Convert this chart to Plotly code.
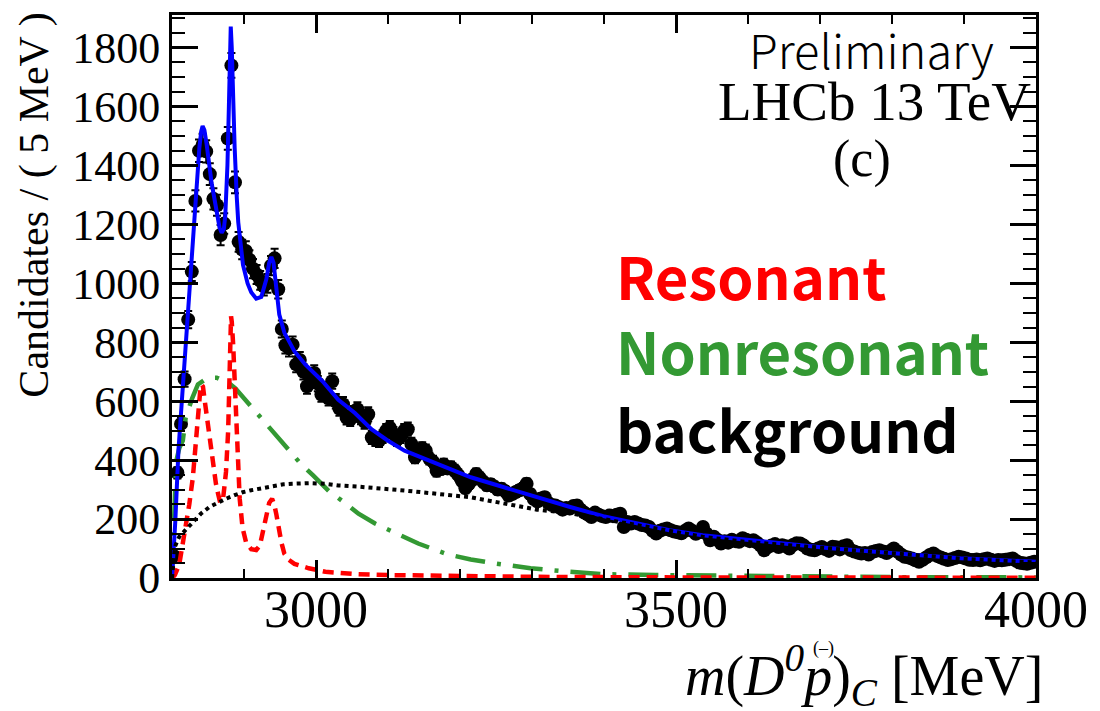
import numpy as np
import plotly.graph_objects as go

# ---------------- data ----------------
mass_bins = [2802.5 + 5 * i for i in range(240)]

counts = [
    # 2802.5 .. 2897.5
    75, 357, 523, 675, 877, 1040, 1280, 1450, 1470, 1448,
    1371, 1287, 1265, 1164, 1203, 1492, 1740, 1343, 1141, 1115,
    # 2902.5 .. 2997.5
    1110, 1080, 1050, 1030, 1010, 990, 1000, 1060, 1085, 980,
    845, 790, 780, 792, 725, 740, 700, 651, 680, 696,
    # 3002.5 .. 3097.5
    660, 623, 640, 610, 668, 600, 575, 590, 544, 539,
    560, 573, 545, 530, 556, 477, 470, 466, 480, 500,
    # 3102.5 .. 3197.5
    510, 490, 470, 480, 500, 505, 455, 410, 425, 440,
    432, 405, 395, 364, 370, 385, 372, 376, 365, 350,
    # 3202.5 .. 3297.5
    330, 305, 320, 335, 353, 340, 326, 315, 318, 310,
    300, 303, 295, 280, 285, 292, 298, 305, 320, 285,
    # 3302.5 .. 3397.5
    268, 260, 270, 274, 255, 248, 246, 240, 232, 238,
    236, 244, 246, 232, 222, 215, 207, 222, 215, 210,
    # 3402.5 .. 3497.5
    207, 212, 210, 215, 218, 173, 190, 185, 190, 185,
    180, 178, 173, 160, 151, 160, 165, 168, 162, 158,
    # 3502.5 .. 3597.5
    155, 152, 160, 168, 160, 150, 155, 173, 150, 128,
    140, 130, 117, 125, 120, 130, 125, 123, 135, 130,
    # 3602.5 .. 3697.5
    125, 128, 120, 110, 94, 105, 110, 115, 105, 111,
    108, 100, 112, 118, 117, 110, 100, 96, 94, 100,
    # 3702.5 .. 3797.5
    105, 98, 92, 106, 104, 97, 108, 111, 95, 90,
    86, 83, 85, 80, 88, 92, 94, 90, 85, 92,
    # 3802.5 .. 3897.5
    100, 90, 80, 72, 70, 66, 60, 55, 62, 70,
    78, 83, 75, 70, 65, 61, 64, 68, 72, 70,
    # 3902.5 .. 3997.5
    66, 62, 61, 63, 60, 64, 66, 62, 58, 61,
    60, 62, 64, 66, 58, 52, 50, 48, 52, 55,
]

total_m = [2800, 2802, 2804.6, 2809, 2814, 2820.6, 2827.5, 2834.4, 2838, 2840.5,
           2842.5, 2845, 2848, 2855, 2862, 2866, 2869, 2872, 2874, 2877,
           2879, 2880.5, 2881.6, 2883, 2884.5, 2887, 2890, 2892, 2898.6, 2905,
           2910, 2917, 2924, 2931, 2935, 2938, 2941, 2944.5, 2949, 2956,
           2963, 2970, 2985, 3009, 3031, 3054, 3077, 3100, 3123, 3169,
           3215, 3261, 3307, 3353, 3399, 3445, 3491, 3537, 3582, 3619,
           3711, 3803, 3895, 4000]
total_v = [0, 80, 193, 435, 616, 857, 1099, 1341, 1460, 1515,
           1534, 1520, 1474, 1341, 1232, 1190, 1172, 1185, 1230, 1401,
           1600, 1790, 1872, 1800, 1650, 1462, 1290, 1208, 1063, 1000,
           970, 948, 954, 1014, 1070, 1090, 1070, 990, 894, 833,
           800, 770, 725, 668, 605, 560, 505, 466, 432, 387,
           342, 308, 274, 241, 210, 185, 162, 145, 134, 126,
           102, 84, 67, 55]

res_m = [2800, 2804, 2810, 2818, 2824, 2829, 2833, 2836, 2839, 2841,
         2843, 2845, 2848, 2852, 2857, 2861, 2864, 2867, 2871, 2875,
         2878, 2880, 2881, 2882, 2883, 2885, 2887, 2889, 2891, 2894,
         2898, 2903, 2910, 2917, 2922, 2926, 2931, 2935, 2939, 2942,
         2945, 2948, 2952, 2956, 2962, 2970, 2990, 3013, 3059, 3100,
         3200, 3300, 3500, 4000]
res_v = [0, 10, 45, 151, 250, 342, 470, 556, 630, 657,
         650, 610, 556, 470, 398, 320, 286, 255, 270, 360,
         500, 700, 810, 888, 870, 790, 660, 520, 409, 270,
         170, 120, 98, 95, 110, 151, 215, 255, 269, 250,
         215, 170, 120, 83, 62, 48, 33, 21, 13, 10,
         6, 4, 2, 1]

nonres_m = [2800, 2801, 2803, 2804, 2806, 2810, 2815, 2819, 2828, 2836,
            2845, 2855, 2862, 2870, 2880, 2888, 2900, 2910, 2922, 2932,
            2942, 2952, 2962, 2978, 2996, 3018, 3043, 3059, 3082, 3112,
            3142, 3183, 3215, 3247, 3298, 3353, 3399, 3472, 3600, 3800,
            4000]
nonres_v = [0, 100, 200, 274, 398, 440, 466, 544, 610, 657,
            672, 680, 680, 672, 660, 644, 610, 580, 550, 520,
            491, 462, 434, 390, 348, 295, 250, 218, 185, 151,
            117, 80, 63, 50, 33, 21, 13, 10, 6, 3,
            2]

bkg_m = [2800, 2802, 2804, 2810, 2820, 2829, 2840, 2852, 2865, 2875,
         2887, 2898, 2910, 2921, 2932, 2944, 2955, 2967, 2980, 2990,
         3013, 3031, 3059, 3123, 3215, 3260, 3307, 3353, 3399, 3445,
         3491, 3537, 3600, 3700, 3800, 3900, 4000]
bkg_v = [0, 60, 106, 140, 165, 190, 218, 241, 258, 269,
         281, 291, 298, 303, 309, 314, 318, 320, 322, 322,
         320, 314, 310, 297, 274, 252, 232, 220, 200, 180,
         158, 140, 122, 102, 82, 65, 53]

x_tick_vals = [3000, 3500, 4000]
x_tick_text = ["3000", "3500", "4000"]
y_tick_vals = [0, 200, 400, 600, 800, 1000, 1200, 1400, 1600, 1800]
y_tick_text = [str(v) for v in y_tick_vals]

# ---------------- figure ----------------
W, H = 1100, 711
L, R, T, B = 172, 1043, 12, 578

def px(xp):
    return (xp - L) / (R - L)

def py(yp):
    return (B - yp) / (B - T)

SERIF = "Liberation Serif, Times New Roman, serif"
SANS = "Noto Sans CJK SC"
GREEN = "#339933"

errs = np.sqrt(np.array(counts, dtype=float))

fig = go.Figure()
fig.add_trace(go.Scatter(
    x=mass_bins, y=counts, mode="markers",
    marker=dict(color="black", size=14),
    error_y=dict(type="data", array=errs, color="black", thickness=2, width=4),
    showlegend=False))
fig.add_trace(go.Scatter(x=nonres_m, y=nonres_v, mode="lines",
                         line=dict(color=GREEN, width=4.5, dash="30px,12px,4px,12px"),
                         showlegend=False))
fig.add_trace(go.Scatter(x=res_m, y=res_v, mode="lines",
                         line=dict(color="#ff0000", width=4.5, dash="11px,7px"),
                         showlegend=False))
fig.add_trace(go.Scatter(x=total_m, y=total_v, mode="lines",
                         line=dict(color="#0000ff", width=4),
                         showlegend=False))
fig.add_trace(go.Scatter(x=bkg_m, y=bkg_v, mode="lines",
                         line=dict(color="black", width=4, dash="4px,4px"),
                         showlegend=False))

axis_common = dict(
    showline=True, linecolor="black", linewidth=3, mirror="allticks",
    ticks="inside", tickcolor="black", tickwidth=2.5,
    showgrid=False, zeroline=False,
)

fig.update_xaxes(range=[2800, 4000], tickvals=x_tick_vals, ticktext=x_tick_text,
                 ticklen=18, ticklabelstandoff=-16,
                 tickfont=dict(family=SERIF, size=52, color="black"),
                 minor=dict(dtick=100, tick0=2800, ticklen=9, tickwidth=2, tickcolor="black", ticks="inside"),
                 **axis_common)
fig.update_yaxes(range=[0, 1911], tickvals=y_tick_vals, ticktext=y_tick_text,
                 ticklen=26,
                 tickfont=dict(family=SERIF, size=44, color="black"),
                 minor=dict(dtick=50, tick0=0, ticklen=13, tickwidth=2, tickcolor="black", ticks="inside"),
                 **axis_common)

ann = []
ann.append(dict(x=px(1003), y=py(46), xref="paper", yref="paper", xanchor="right", yanchor="middle",
                text="Preliminary", showarrow=False,
                font=dict(family=SANS, size=47, color="black", weight=300)))
ann.append(dict(x=px(1040), y=py(99), xref="paper", yref="paper", xanchor="right", yanchor="middle",
                text="LHCb 13 TeV", showarrow=False,
                font=dict(family=SERIF, size=55, color="black")))
ann.append(dict(x=px(868), y=py(157), xref="paper", yref="paper", xanchor="center", yanchor="middle",
                text="(c)", showarrow=False,
                font=dict(family=SERIF, size=52, color="black")))
ann.append(dict(x=px(618), y=py(273), xref="paper", yref="paper", xanchor="left", yanchor="middle",
                text="<b>Resonant</b>", showarrow=False,
                font=dict(family=SANS, size=58, color="#ff0000")))
ann.append(dict(x=px(618), y=py(349), xref="paper", yref="paper", xanchor="left", yanchor="middle",
                text="<b>Nonresonant</b>", showarrow=False,
                font=dict(family=SANS, size=58, color=GREEN)))
ann.append(dict(x=px(618), y=py(427), xref="paper", yref="paper", xanchor="left", yanchor="middle",
                text="<b>background</b>", showarrow=False,
                font=dict(family=SANS, size=58, color="black")))
# y-axis title (top aligned, ROOT style)
ann.append(dict(x=px(33), y=py(8), xref="paper", yref="paper", xanchor="center", yanchor="top",
                text="Candidates / ( 5 MeV )", textangle=-90, showarrow=False,
                font=dict(family=SERIF, size=42, color="black")))
# x-axis title (right aligned)
ann.append(dict(x=px(1052), y=py(676), xref="paper", yref="paper", xanchor="right", yanchor="middle",
                text="<i>m</i>(<i>D</i><sup><i>0</i></sup><i>p</i>)<sub><i>C</i></sub> [MeV]",
                showarrow=False,
                font=dict(family=SERIF, size=56, color="black")))
ann.append(dict(x=px(829), y=py(649), xref="paper", yref="paper", xanchor="center", yanchor="middle",
                text="(‒)", showarrow=False,
                font=dict(family=SERIF, size=18, color="black")))

fig.update_layout(
    width=W, height=H,
    margin=dict(l=L, r=W - R, t=T, b=H - B, pad=0),
    paper_bgcolor="white", plot_bgcolor="white",
    annotations=ann,
    showlegend=False,
)

fig.write_html("out.html")
